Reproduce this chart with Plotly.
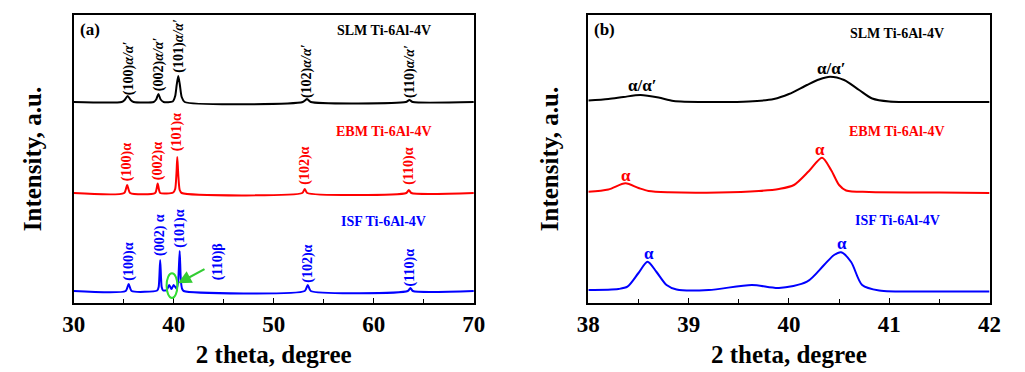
import plotly.graph_objects as go

# ---------------- data (offset-stacked intensities, a.u.) ----------------
# Panel (a): 2 theta 30-70
slm_a_x = [30, 34.8, 35.1, 35.4, 35.7, 36.0, 38.0, 38.25, 38.47, 38.7, 39.0, 39.9, 40.15, 40.3, 40.46,
           40.62, 40.8, 41.1, 52.9, 53.33, 53.7, 63.2, 63.56, 63.9, 70]
slm_a_y = [201, 201, 203, 207, 203, 201, 201, 203.5, 209, 203.5, 201, 201.5, 207, 218, 227,
           218, 206, 201, 201, 204, 201, 201, 203, 201, 201]

ebm_a_x = [30, 35.05, 35.35, 35.65, 38.15, 38.4, 38.65, 39.95, 40.15, 40.28, 40.36, 40.46, 40.6, 40.8,
           52.85, 53.1, 53.35, 63.25, 63.5, 63.75, 70]
ebm_a_y = [110, 110, 118, 110, 110, 119.5, 110, 110.5, 114, 130, 146, 128, 113, 110,
           110, 114, 110, 110, 113, 110, 110]

isf_a_x = [30, 35.2, 35.5, 35.8, 38.35, 38.5, 38.65, 38.8, 38.95, 39.3, 39.55, 39.78, 40.0, 40.3, 40.45,
           40.6, 40.72, 40.85, 41.0, 53.1, 53.4, 53.7, 63.4, 63.66, 63.9, 70]
isf_a_y = [12, 12, 19, 12, 12.5, 16, 43, 16, 12.5, 13, 18, 14, 18, 14, 22,
           52, 22, 14, 12, 12, 18, 12, 12, 15, 12, 12]

# Panel (b): 2 theta 38-42
slm_b_x = [38.0, 38.2, 38.35, 38.52, 38.7, 38.85, 39.2, 39.6, 39.85, 40.0, 40.18, 40.3, 40.41,
           40.55, 40.7, 40.83, 41.0, 41.5, 42.0]
slm_b_y = [202.5, 204, 206, 208, 205.5, 202, 201, 201.5, 204, 209, 218, 223.5, 226.3,
           223, 213, 204.5, 201.5, 201, 201]

ebm_b_x = [38.0, 38.2, 38.37, 38.5, 38.6, 38.8, 39.3, 39.7, 39.9, 40.05, 40.2, 40.33, 40.42,
           40.5, 40.57, 40.8, 41.5, 42.0]
ebm_b_y = [111.3, 113.5, 119.7, 115, 112, 110.7, 110.5, 112, 114, 118, 132, 145.3, 133,
           118, 112.5, 111, 110.5, 110]

isf_b_x = [38.0, 38.3, 38.39, 38.5, 38.59, 38.68, 38.78, 38.88, 39.2, 39.63, 39.9, 40.18, 40.35,
           40.45, 40.52, 40.62, 40.73, 40.9, 41.5, 42.0]
isf_b_y = [13, 14, 16.3, 30, 41.3, 31, 18, 13.5, 13, 18, 15, 21.3, 38,
           48, 50.7, 41, 18, 12.5, 11.5, 11.5]

# tick labels
ticks_a = [30, 40, 50, 60, 70]
ticks_b = [38, 39, 40, 41, 42]

# peak labels panel (a): (x, y-bottom, text)
slm_labels = [(35.55, 206, "(100)<i>α/α′</i>"), (38.55, 210, "(002)<i>α/α′</i>"),
              (40.5, 228, "(101)<i>α/α′</i>"), (53.33, 203, "(102)<i>α/α′</i>"),
              (63.56, 203, "(110)<i>α/α′</i>")]
ebm_labels = [(35.35, 120, "(100)α"), (38.45, 121, "(002)α"), (40.36, 150, "(101)α"),
              (53.1, 116, "(102)α"), (63.5, 116, "(110)α")]
isf_labels = [(35.5, 20, "(100)α"), (38.63, 45, "(002) α"), (40.6, 53, "(101)α"),
              (44.4, 21, "(110)β"), (53.4, 18, "(102)α"), (63.66, 15, "(110)α")]

# panel (b) labels: (x, y-center, text)
b_labels = [(38.54, 218, "α/α′", "black"), (40.42, 235, "α/α′", "black"),
            (38.38, 128, "α", "red"), (40.31, 154, "α", "red"),
            (38.6, 50, "α", "blue"), (40.53, 60, "α", "blue")]

sample_names = ["SLM Ti-6Al-4V", "EBM Ti-6Al-4V", "ISF Ti-6Al-4V"]
colors = ["black", "#ff0000", "#0000ff"]

FONT = "Liberation Serif, Times New Roman, serif"

fig = go.Figure()
for (x, y, c) in [(slm_a_x, slm_a_y, colors[0]), (ebm_a_x, ebm_a_y, colors[1]), (isf_a_x, isf_a_y, colors[2])]:
    fig.add_trace(go.Scatter(x=x, y=y, mode="lines", line=dict(color=c, width=2, shape="spline", smoothing=0.6),
                             xaxis="x", yaxis="y", showlegend=False, hoverinfo="skip"))
for (x, y, c) in [(slm_b_x, slm_b_y, colors[0]), (ebm_b_x, ebm_b_y, colors[1]), (isf_b_x, isf_b_y, colors[2])]:
    fig.add_trace(go.Scatter(x=x, y=y, mode="lines", line=dict(color=c, width=2, shape="spline", smoothing=0.8),
                             xaxis="x2", yaxis="y2", showlegend=False, hoverinfo="skip"))

ann = []
for labs, c in [(slm_labels, colors[0]), (ebm_labels, colors[1]), (isf_labels, colors[2])]:
    for (x, y, t) in labs:
        ann.append(dict(x=x, y=y, xref="x", yref="y", text="<b>" + t + "</b>", textangle=-90,
                        showarrow=False, xanchor="center", yanchor="bottom",
                        font=dict(family=FONT, size=14, color=c)))
for (x, y, t, c) in b_labels:
    ann.append(dict(x=x, y=y, xref="x2", yref="y2", text="<b>" + t + "</b>", showarrow=False,
                    xanchor="center", yanchor="middle", font=dict(family=FONT, size=17, color=c)))

# sample names
for (xa, xr, ys) in [(61.0, "x", [273, 171.3, 81.3]), (41.08, "x2", [270, 172, 83])]:
    for name, c, yy in zip(sample_names, colors, ys):
        ann.append(dict(x=xa, y=yy, xref=xr, yref="y" if xr == "x" else "y2", text="<b>" + name + "</b>",
                        showarrow=False, xanchor="center", yanchor="middle",
                        font=dict(family=FONT, size=14, color=c)))

# panel tags
ann.append(dict(x=30.45, y=274, xref="x", yref="y", text="<b>(a)</b>", showarrow=False,
                xanchor="left", yanchor="middle", font=dict(family=FONT, size=17, color="black")))
ann.append(dict(x=38.04, y=274, xref="x2", yref="y2", text="<b>(b)</b>", showarrow=False,
                xanchor="left", yanchor="middle", font=dict(family=FONT, size=17, color="black")))

# green arrow
ann.append(dict(x=40.44, y=19.7, ax=43.23, ay=34.7, xref="x", yref="y", axref="x", ayref="y",
                text="", showarrow=True, arrowhead=2, arrowsize=1.2, arrowwidth=2.2, arrowcolor="#33cc33"))

fig.add_shape(type="circle", xref="x", yref="y", x0=39.29, x1=40.37, y0=5, y1=29.7,
              line=dict(color="#33dd33", width=2))

axis_common = dict(showgrid=False, zeroline=False, showline=True, linecolor="black", linewidth=1.6,
                   mirror=True, ticks="inside", ticklen=5, tickwidth=1.4, tickcolor="black",
                   tickfont=dict(family=FONT, size=23, color="black"))
title_font = dict(family=FONT, size=25, color="black")

fig.update_layout(
    width=1025, height=372,
    margin=dict(l=0, r=0, t=15, b=69),
    paper_bgcolor="white", plot_bgcolor="white",
    xaxis=dict(domain=[64 / 1025, 473 / 1025], range=[30, 70], tickvals=ticks_a,
               ticktext=["<b>%d</b>" % v for v in ticks_a],
               minor=dict(tickvals=[35, 45, 55, 65], ticks="inside", ticklen=4, tickwidth=1.2, tickcolor="black"),
               title=dict(text="<b>2 theta, degree</b>", font=title_font, standoff=9), anchor="y",
               **axis_common),
    yaxis=dict(domain=[0, 1], range=[0, 288], showticklabels=False, ticks="",
               title=dict(text="<b>Intensity, a.u.</b>", font=title_font, standoff=23), anchor="x",
               showgrid=False, zeroline=False, showline=True, linecolor="black", linewidth=1.6, mirror=True),
    xaxis2=dict(domain=[590 / 1025, 1000 / 1025], range=[38, 42], tickvals=ticks_b,
                ticktext=["<b>%d</b>" % v for v in ticks_b],
                minor=dict(tickvals=[38.5, 39.5, 40.5, 41.5], ticks="inside", ticklen=4, tickwidth=1.2, tickcolor="black"),
                title=dict(text="<b>2 theta, degree</b>", font=title_font, standoff=9), anchor="y2",
                **axis_common),
    yaxis2=dict(domain=[0, 1], range=[0, 288], showticklabels=False, ticks="",
                title=dict(text="<b>Intensity, a.u.</b>", font=title_font, standoff=21), anchor="x2",
                showgrid=False, zeroline=False, showline=True, linecolor="black", linewidth=1.6, mirror=True),
    annotations=ann,
)

fig.write_html("out.html")
